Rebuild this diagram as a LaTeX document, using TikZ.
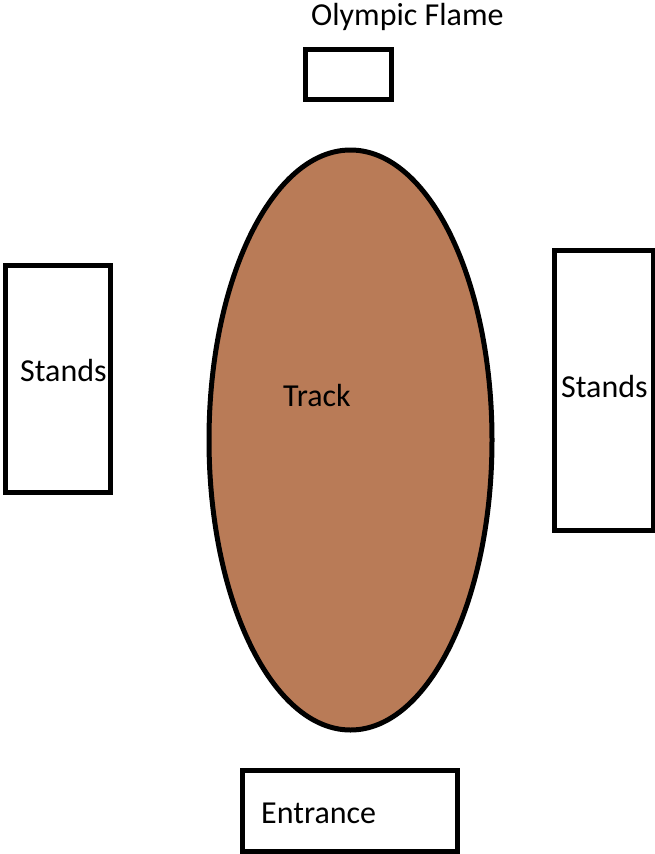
\documentclass[tikz,border=0pt]{standalone}
\usepackage{fontspec}
\setmainfont{Carlito}
\usetikzlibrary{shapes.geometric}
\definecolor{trackbrown}{RGB}{185,123,87}
\begin{document}
\begin{tikzpicture}[x=1pt,y=-1pt,
  box/.style={draw=black,line width=5pt,fill=white,rectangle,inner sep=0pt},
  lbl/.style={anchor=base west,inner sep=0pt,font=\fontsize{32}{38}\selectfont,text=black}]
  \useasboundingbox (0,0) rectangle (655,854);
  % boxes around the field
  \node[box,minimum width=86pt,minimum height=50pt] (flame) at (348.5,74.5) {};
  \node[box,minimum width=105pt,minimum height=227pt] (standsL) at (58,379) {};
  \node[box,minimum width=98.5pt,minimum height=280pt] (standsR) at (603.75,390.5) {};
  \node[box,minimum width=215pt,minimum height=81pt] (entrance) at (350,811) {};
  % running track
  \node[ellipse,draw=black,line width=5pt,fill=trackbrown,
        minimum width=283pt,minimum height=580pt,inner sep=0pt] (track) at (350.5,440) {};
  % labels
  \node[lbl] (flameT) at (311,25) {Olympic Flame};
  \node[lbl] (standsLT) at (20,381) {Stands};
  \node[lbl] (standsRT) at (561,397) {Stands};
  \node[lbl] (trackT) at (283,406) {Track};
  \node[lbl] (entranceT) at (261,823) {Entrance};
\end{tikzpicture}
\end{document}
